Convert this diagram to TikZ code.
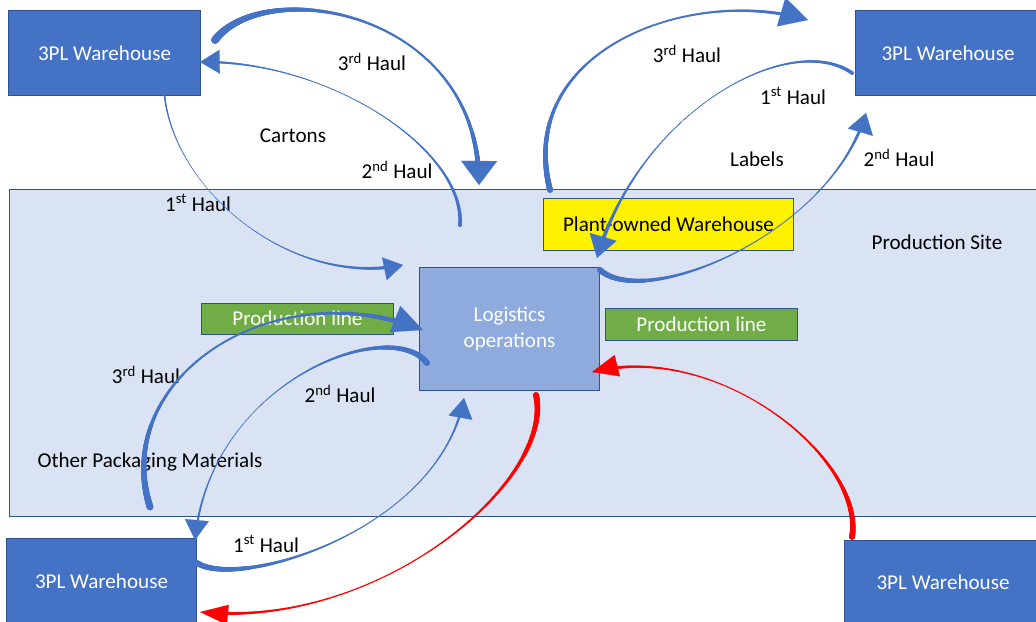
\documentclass[tikz,border=0pt]{standalone}
\usepackage{fontspec}
\setmainfont{Carlito}
\usetikzlibrary{decorations.markings,arrows.meta,calc}
\definecolor{whblue}{HTML}{4472C4}
\definecolor{edge}{HTML}{2F528F}
\definecolor{site}{HTML}{DAE3F3}
\definecolor{logi}{HTML}{8FAADC}
\definecolor{pgreen}{HTML}{70AD47}
\definecolor{arrblue}{HTML}{4472C4}
\definecolor{arrred}{HTML}{FF0000}
\tikzset{
  box/.style={draw=edge, line width=0.7pt, inner sep=0pt, outer sep=0pt, align=center},
  whbox/.style={box, fill=whblue, text=white},
  lbl/.style={inner sep=0pt, text=black},
  taper/.style n args={5}{%
    postaction={decorate, decoration={markings,
      mark=between positions 0 and -#5pt step 0.5pt with {%
        \pgfmathsetmacro\tpos{\pgfkeysvalueof{/pgf/decoration/mark info/distance from start}/\pgfdecoratedpathlength}%
        \pgfmathsetmacro\trad{max(0.35,0.3557*(#2*2*(\tpos-0.5)*(\tpos-1)-#3*4*\tpos*(\tpos-1)+#4*2*\tpos*(\tpos-0.5)))}%
        \fill[#1] (0pt,0pt) circle (\trad pt);}}}
  },
  headtip/.style n args={3}{draw=#1, line width=0.1pt, -{Triangle[length=#2pt, width=#3pt]}}
}
\begin{document}
\begin{tikzpicture}[x=0.025cm,y=-0.025cm,font=\fontsize{15}{18.5}\selectfont]
\useasboundingbox (0,0) rectangle (1036,622);
% production site
\node[box, fill=site, minimum width=25.875cm, minimum height=8.15cm] (site) at (527.5,353) {};
\node[lbl] (sitelbl) at (937,242) {Production Site};
% warehouses
\node[whbox, minimum width=4.775cm, minimum height=2.1cm] (wTL) at (104.5,53) {3PL Warehouse};
\node[whbox, minimum width=4.65cm, minimum height=2.1cm] (wTR) at (948,53) {3PL Warehouse};
\node[whbox, minimum width=4.725cm, minimum height=2.15cm] (wBL) at (101.5,581) {3PL Warehouse};
\node[whbox, minimum width=4.9cm, minimum height=2.1cm] (wBR) at (943,582) {3PL Warehouse};
% inner boxes
\node[box, fill=yellow, minimum width=6.225cm, minimum height=1.275cm] (plant) at (668.5,224.5) {Plant-owned Warehouse};
\node[box, fill=logi, text=white, minimum width=4.475cm, minimum height=3.05cm] (logi) at (509.5,329) {Logistics\\operations};
\node[box, fill=pgreen, text=white, minimum width=4.775cm, minimum height=0.775cm] (plL) at (297.5,318.5) {Production line};
\node[box, fill=pgreen, text=white, minimum width=4.775cm, minimum height=0.8cm] (plR) at (701.5,324) {Production line};
% labels
\node[lbl] (l1) at (372,62) {3\textsuperscript{rd} Haul};
\node[lbl] (l2) at (293,136) {Cartons};
\node[lbl] (l3) at (397,170) {2\textsuperscript{nd} Haul};
\node[lbl] (l4) at (198,203) {1\textsuperscript{st} Haul};
\node[lbl] (l5) at (687,54) {3\textsuperscript{rd} Haul};
\node[lbl] (l6) at (793,96) {1\textsuperscript{st} Haul};
\node[lbl] (l7) at (757,159) {Labels};
\node[lbl] (l8) at (899,158) {2\textsuperscript{nd} Haul};
\node[lbl] (l9) at (146,375) {3\textsuperscript{rd} Haul};
\node[lbl] (l10) at (340,394) {2\textsuperscript{nd} Haul};
\node[lbl] (l11) at (150,462) {Other Packaging Materials};
\node[lbl] (l12) at (266,544) {1\textsuperscript{st} Haul};
% connector end points and control points
\coordinate (a1s) at (215,40);  \coordinate (a1p) at (265,-25); \coordinate (a1q) at (480,10);  \coordinate (a1e) at (479,185);
\coordinate (a2s) at (460,225); \coordinate (a2p) at (465,150); \coordinate (a2q) at (330,60);  \coordinate (a2e) at (200,62);
\coordinate (a3s) at (165,65);  \coordinate (a3p) at (150,170); \coordinate (a3q) at (280,290); \coordinate (a3e) at (403,265);
\coordinate (a4s) at (550,190); \coordinate (a4p) at (515,50);  \coordinate (a4q) at (690,-15); \coordinate (a4e) at (808,20);
\coordinate (a5s) at (852,73);  \coordinate (a5p) at (790,30);  \coordinate (a5q) at (640,110); \coordinate (a5e) at (597,258);
\coordinate (a6s) at (600,270); \coordinate (a6p) at (645,310); \coordinate (a6q) at (830,235); \coordinate (a6e) at (866,113);
\coordinate (a7s) at (150,507); \coordinate (a7p) at (110,380); \coordinate (a7q) at (270,270); \coordinate (a7e) at (423,330);
\coordinate (a8s) at (427,363); \coordinate (a8p) at (390,315); \coordinate (a8q) at (210,380); \coordinate (a8e) at (195,540);
\coordinate (a9s) at (197,563); \coordinate (a9p) at (240,590); \coordinate (a9q) at (440,530); \coordinate (a9e) at (464,398);
\coordinate (r1s) at (536,395); \coordinate (r1p) at (555,480); \coordinate (r1q) at (380,630); \coordinate (r1e) at (200,612);
\coordinate (r2s) at (852,537); \coordinate (r2p) at (865,460); \coordinate (r2q) at (720,340); \coordinate (r2e) at (592,372);
% cartons
\path[taper={arrblue}{8}{2.5}{6}{9}] (a1s) .. controls (a1p) and (a1q) .. (a1e);
\draw[headtip={arrblue}{17.1}{25.6}] ($(a1e)!17.1pt!(a1q)$) -- (a1e);
\path[taper={arrblue}{4}{1.2}{3}{6.5}] (a2s) .. controls (a2p) and (a2q) .. (a2e);
\draw[headtip={arrblue}{14}{17}] ($(a2e)!14pt!(a2q)$) -- (a2e);
\path[taper={arrblue}{2.5}{1}{4}{6.5}] (a3s) .. controls (a3p) and (a3q) .. (a3e);
\draw[headtip={arrblue}{13.5}{16.5}] ($(a3e)!13.5pt!(a3q)$) -- (a3e);
% labels
\path[taper={arrblue}{6}{2.2}{4}{10}] (a4s) .. controls (a4p) and (a4q) .. (a4e);
\draw[headtip={arrblue}{19.9}{21.3}] ($(a4e)!19.9pt!(a4q)$) -- (a4e);
\path[taper={arrblue}{4}{1.2}{5}{8}] (a5s) .. controls (a5p) and (a5q) .. (a5e);
\draw[headtip={arrblue}{15.6}{19.9}] ($(a5e)!15.6pt!(a5q)$) -- (a5e);
\path[taper={arrblue}{6}{1.3}{4}{7}] (a6s) .. controls (a6p) and (a6q) .. (a6e);
\draw[headtip={arrblue}{14.2}{18.5}] ($(a6e)!14.2pt!(a6q)$) -- (a6e);
% other packaging
\path[taper={arrblue}{7}{2.2}{6}{10.5}] (a7s) .. controls (a7p) and (a7q) .. (a7e);
\draw[headtip={arrblue}{21.3}{20}] ($(a7e)!21.3pt!(a7q)$) -- (a7e);
\path[taper={arrblue}{6}{1.3}{3}{7}] (a8s) .. controls (a8p) and (a8q) .. (a8e);
\draw[headtip={arrblue}{14.2}{17.1}] ($(a8e)!14.2pt!(a8q)$) -- (a8e);
\path[taper={arrblue}{6}{1.5}{3}{7}] (a9s) .. controls (a9p) and (a9q) .. (a9e);
\draw[headtip={arrblue}{14.2}{17.1}] ($(a9e)!14.2pt!(a9q)$) -- (a9e);
% red
\path[taper={arrred}{6}{1.5}{4}{10}] (r1s) .. controls (r1p) and (r1q) .. (r1e);
\draw[headtip={arrred}{19.9}{14.2}] ($(r1e)!19.9pt!(r1q)$) -- (r1e);
\path[taper={arrred}{6}{1.5}{4}{9}] (r2s) .. controls (r2p) and (r2q) .. (r2e);
\draw[headtip={arrred}{18.5}{15.6}] ($(r2e)!18.5pt!(r2q)$) -- (r2e);
\end{tikzpicture}
\end{document}
